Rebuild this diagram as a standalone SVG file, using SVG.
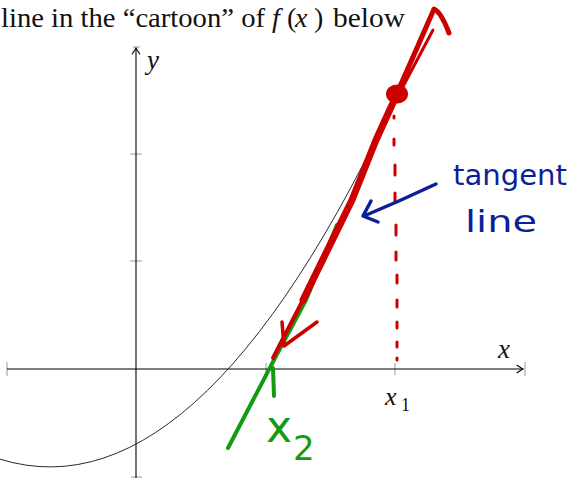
<svg xmlns="http://www.w3.org/2000/svg" width="570" height="479" viewBox="0 0 570 479">
<defs>
<style>
.axis{stroke:#000;stroke-width:1.1;fill:none}
.tick{stroke:#999;stroke-width:1;fill:none}
.curve{stroke:#111;stroke-width:0.9;fill:none}
.red{stroke:#cc0000;fill:none;stroke-linecap:round;stroke-linejoin:round}
.green{stroke:#139a13;fill:none;stroke-linecap:round;stroke-linejoin:round}
.blue{stroke:#0c1f99;fill:none;stroke-linecap:round;stroke-linejoin:round}
.serif{font-family:"Liberation Serif","DejaVu Serif",serif;fill:#111}
.math{font-family:"Liberation Serif","DejaVu Serif",serif;font-style:italic;fill:#111}
.hand{font-family:"DejaVu Sans","Noto Sans",sans-serif}
</style>
<marker id="arr" viewBox="-8 -5 10 10" refX="0" refY="0" markerWidth="10" markerHeight="10" markerUnits="userSpaceOnUse" orient="auto">
<path d="M-6,-3.8 Q-1.5,-0.8 0,0 Q-1.5,0.8 -6,3.8" fill="none" stroke="#000" stroke-width="1.1" stroke-linecap="round"/>
</marker>
</defs>

<g id="title">
<text class="serif" x="1" y="27" font-size="28" textLength="264" lengthAdjust="spacingAndGlyphs">line in the “cartoon” of</text>
<text class="math" x="272" y="27" font-size="28">f</text>
<text class="serif" x="287" y="27" font-size="28">(</text>
<text class="math" x="295" y="27" font-size="28">x</text>
<text class="serif" x="314" y="27" font-size="28">)</text>
<text class="serif" x="333" y="27" font-size="28" textLength="72" lengthAdjust="spacingAndGlyphs">below</text>
</g>

<g id="axes">
<path class="tick" d="M7,362 V376 M525,362 V376 M133,47 H140 M131,477 H142 M130,154 H142 M130,261 H142 M266,363 V375 M395,363 V375"/>
<line class="axis" x1="7" y1="369" x2="523" y2="369" marker-end="url(#arr)"/>
<line class="axis" x1="136" y1="478" x2="136" y2="48" marker-end="url(#arr)"/>
<text class="math" x="498" y="358" font-size="27">x</text>
<text class="math" x="147" y="69" font-size="27">y</text>
<text class="math" x="385" y="405" font-size="26">x</text>
<text class="serif" x="401" y="411" font-size="18">1</text>
</g>

<g id="curve">
<path class="curve" d="M0,459.2 Q207.5,523.2 415,55.8"/>
</g>

<g id="connectors">
<path class="green" stroke-width="4" d="M228,448 L275,358 L306,300 L337,225"/>
<path class="green" stroke-width="4" d="M273,368 L274,396"/>
<path class="red" stroke-width="4" d="M273,358 L303,300"/>
<path class="red" stroke-width="7" d="M303,300 L352,200 L376,140 L397,94"/>
<path class="red" stroke-width="5" d="M397,94 L434,9 Q441,12 449,33"/>
<path class="red" stroke-width="3" d="M398,96 L433,30"/>
<path class="red" stroke-width="3" d="M391,104 L425,28"/>
<path class="red" stroke-width="3.5" d="M282,322 L284,346 L317,322"/>
<ellipse cx="397" cy="94" rx="11" ry="9.5" fill="#cc0000"/>
<path class="red" stroke-width="3" d="M394,116 V118 M394,139 V145 M395,165 V175 M395,193 V202 M396,225 V235 M396,252 V260 M397,275 V283 M397,300 V307 M397,322 V328 M397,342 V347 M397,358 V360"/>
<path class="blue" stroke-width="3.5" d="M436,184 Q400,201 364,216 M371,201 L363,216 L378,222"/>
</g>

<g id="labels">
<text class="hand" x="453" y="185" font-size="28" fill="#0c1f99" textLength="114" lengthAdjust="spacingAndGlyphs">tangent</text>
<text class="hand" x="465" y="232" font-size="30" fill="#0c1f99" textLength="72" lengthAdjust="spacingAndGlyphs">line</text>
<text class="hand" x="266" y="442" font-size="44" fill="#139a13">x</text>
<text class="hand" x="293" y="460" font-size="34" fill="#139a13">2</text>
</g>
</svg>
